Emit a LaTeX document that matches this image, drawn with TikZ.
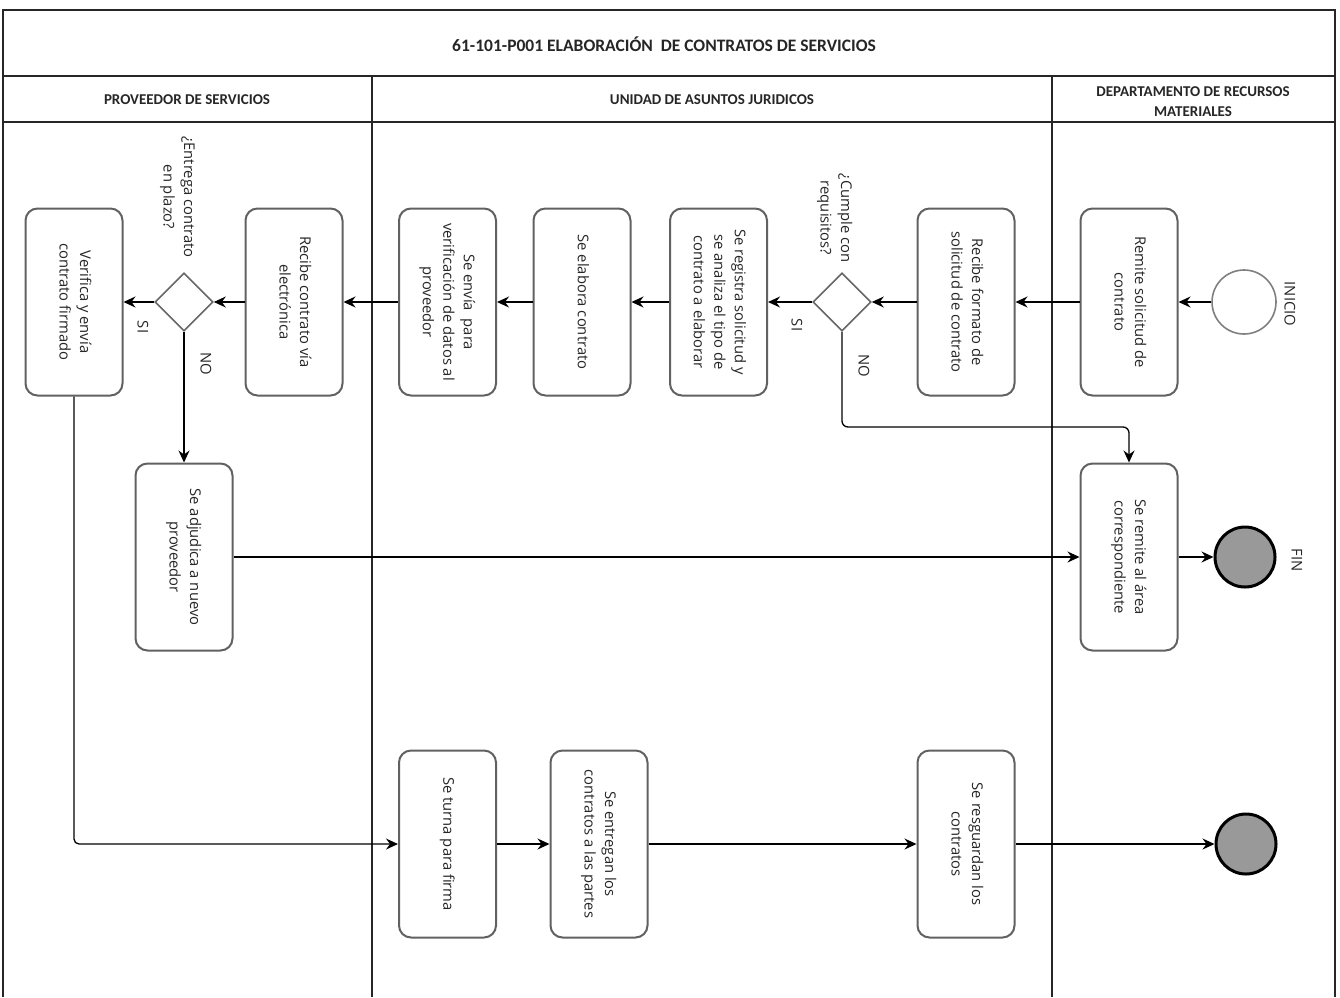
\documentclass[tikz,border=0pt]{standalone}
\usepackage{graphicx}
\usepackage{fontspec}
\setmainfont{Open Sans}
\newfontfamily\headfont{Carlito}
\usetikzlibrary{shapes.geometric,arrows.meta,calc}

% text set top-to-bottom, as in the vertical task boxes
\newcommand\rottext[1]{\rotatebox[origin=c]{-90}{\begin{tabular}{@{}c@{}}#1\end{tabular}}}

\tikzset{
  lane/.style={draw=black!85, line width=1.4pt},
  proc/.style={draw=black!62, line width=2pt, rounded corners=12pt, fill=white,
    minimum width=97pt, minimum height=187pt, inner sep=0pt, text=black!85,
    font=\fontsize{14.8}{20.5}\selectfont},
  gate/.style={diamond, draw=black!60, line width=1.6pt, minimum width=58pt,
    minimum height=58pt, inner sep=0pt, fill=white},
  startev/.style={circle, draw=black!50, line width=1.6pt, minimum size=64pt,
    inner sep=0pt, fill=white},
  endev/.style={circle, draw=black, line width=3pt, fill=black!40,
    minimum size=60pt, inner sep=0pt},
  flow/.style={draw=black, line width=1.3pt,
    -{Stealth[length=12pt,width=11pt,inset=4pt]}},
  lbl/.style={inner sep=0pt, text=black!85, font=\fontsize{14.8}{20.5}\selectfont},
  head/.style={font=\headfont\bfseries\fontsize{15}{20}\selectfont,
    align=center, inner sep=0pt, text=black!85},
}

\begin{document}
\begin{tikzpicture}[x=1pt,y=-1pt]
\useasboundingbox (0,0) rectangle (1340,997);

% frame, title band and swimlanes
\draw[lane] (3,997) -- (3,10) -- (1335,10) -- (1335,997);
\draw[lane] (3,76) -- (1335,76);
\draw[lane] (3,122) -- (1335,122);
\draw[lane] (372,76) -- (372,997);
\draw[lane] (1052,76) -- (1052,997);

\node[head, font=\headfont\bfseries\fontsize{17.5}{20}\selectfont] (title) at (664,44)
  {61-101-P001 ELABORACIÓN\ \ DE CONTRATOS DE SERVICIOS};
\node[head] (hprov) at (187,100) {PROVEEDOR DE SERVICIOS};
\node[head] (hjur) at (712,100) {UNIDAD DE ASUNTOS JURIDICOS};
\node[head] (hdep) at (1193,102) {DEPARTAMENTO DE RECURSOS\\MATERIALES};

% first row
\node[startev] (ini) at (1244,302) {};
\node[proc] (remite) at (1129,302) {\rottext{Remite solicitud de\\contrato}};
\node[proc] (rformato) at (966,302) {\rottext{Recibe formato de\\solicitud de contrato}};
\node[gate] (d2) at (842,302) {};
\node[proc] (registra) at (718.5,302) {\rottext{Se registra solicitud y\\se analiza el tipo de\\contrato a elaborar}};
\node[proc] (elabora) at (582,302) {\rottext{Se elabora contrato}};
\node[proc] (envia) at (447.5,302) {\rottext{Se envía\ \ para\\verificación de datos al\\proveedor}};
\node[proc] (rcontrato) at (294,302) {\rottext{Recibe contrato vía\\electrónica}};
\node[gate] (d1) at (184,302) {};
\node[proc] (verifica) at (74,302) {\rottext{Verifica y envía\\contrato firmado}};

% second row
\node[proc] (adjudica) at (184,557) {\rottext{Se adjudica a nuevo\\proveedor}};
\node[proc] (sremite) at (1129,557) {\rottext{Se remite al área\\correspondiente}};
\node[endev] (fin) at (1245,557) {};

% third row
\node[proc] (turna) at (447.5,844) {\rottext{Se turna para firma}};
\node[proc] (entregan) at (599,844) {\rottext{Se entregan los\\contratos a las partes}};
\node[proc] (resguarda) at (966,844) {\rottext{Se resguardan los\\contratos}};
\node[endev] (fin2) at (1246,844) {};

% questions, branch labels and event labels
\node[lbl] (q2) at (835,218) {\rottext{¿Cumple con\\requisitos?}};
\node[lbl] (q1) at (178,197) {\rottext{¿Entrega contrato\\en plazo?}};
\node[lbl] (si2) at (797,325) {\rotatebox{-90}{SI}};
\node[lbl] (no2) at (864,366) {\rotatebox{-90}{NO}};
\node[lbl] (si1) at (143,327) {\rotatebox{-90}{SI}};
\node[lbl] (no1) at (206,364) {\rotatebox{-90}{NO}};
\node[lbl] (tini) at (1290,304) {\rotatebox{-90}{INICIO}};
\node[lbl] (tfin) at (1297,560) {\rotatebox{-90}{FIN}};

% sequence flows
\draw[flow] (ini) -- (remite);
\draw[flow] (remite) -- (rformato);
\draw[flow] (rformato) -- (d2);
\draw[flow] (d2) -- (registra);
\draw[flow] (registra) -- (elabora);
\draw[flow] (elabora) -- (envia);
\draw[flow] (envia) -- (rcontrato);
\draw[flow] (rcontrato) -- (d1);
\draw[flow] (d1) -- (verifica);
\draw[flow] (d1) -- (adjudica);
\coordinate (nobend) at (0,427);
\draw[flow, rounded corners=6pt] (d2.south) -- (d2.south |- nobend) -| (sremite.north);
\draw[flow] (adjudica) -- (sremite);
\draw[flow] (sremite) -- (fin);
\draw[flow, rounded corners=5pt] (verifica.south) |- (turna.west);
\draw[flow] (turna) -- (entregan);
\draw[flow] (entregan) -- (resguarda);
\draw[flow] (resguarda) -- (fin2);
\end{tikzpicture}
\end{document}
